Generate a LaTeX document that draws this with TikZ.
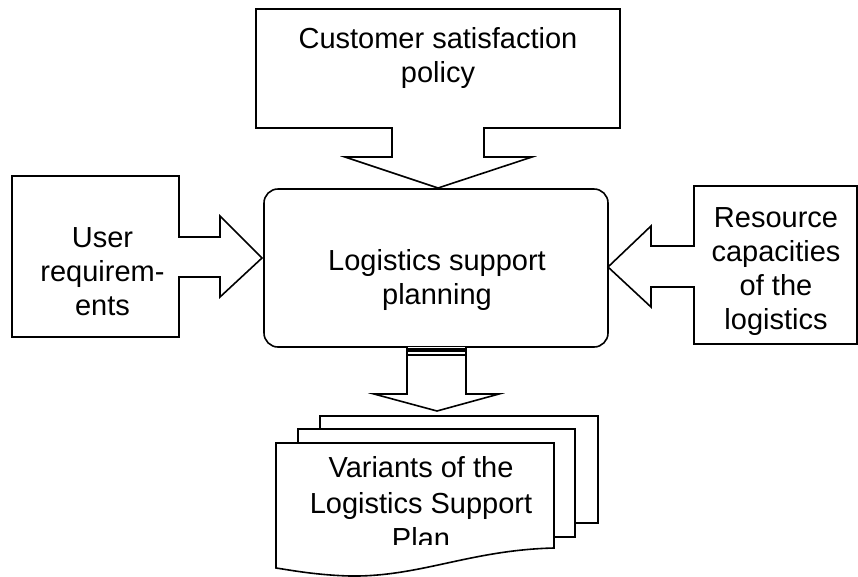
\documentclass[tikz,border=0pt]{standalone}
\usepackage{fontspec}
\setmainfont{Liberation Sans}
\begin{document}
\begin{tikzpicture}[x=1pt,y=-1pt]
\tikzset{
  lbl/.style={font=\fontsize{29}{34}\selectfont, align=center, inner sep=0pt, anchor=north},
  shapeline/.style={draw=black, fill=white, line width=1.6pt, line join=miter},
}
\useasboundingbox (0,0) rectangle (858,576);
\clip (0,0) rectangle (858,576);
\fill[white] (0,0) rectangle (858,576);

% top callout
\draw[shapeline] (256,9) -- (620,9) -- (620,128) -- (484,128) -- (484,157) -- (532,157)
  -- (438,188) -- (345,157) -- (392,157) -- (392,128) -- (256,128) -- cycle;
\node[lbl] (policy) at (438,27.5) {Customer satisfaction\\policy};

% left callout
\draw[shapeline] (12,176) -- (179,176) -- (179,237) -- (220,237) -- (220,216) -- (262,258)
  -- (220,297) -- (220,277) -- (179,277) -- (179,337) -- (12,337) -- cycle;
\node[lbl] (user) at (102.5,227.5) {User\\requirem-\\ents};

% right callout
\draw[shapeline] (857,186) -- (694,186) -- (694,246) -- (651,246) -- (651,226) -- (608,267)
  -- (651,307) -- (651,287) -- (694,287) -- (694,344) -- (857,344) -- cycle;
\node[lbl] (resource) at (776,207) {Resource\\capacities\\of the\\logistics};

% main box
\node[draw, line width=1.6pt, rounded corners=14pt, minimum width=344pt, minimum height=158pt,
  inner sep=0pt] (main) at (436,268) {};
\node[lbl] (mainlbl) at (437,249) {Logistics support\\planning};

% output arrow
\draw[shapeline] (407,347) -- (407,394) -- (374,394) -- (437,411) -- (499,394) -- (466,394) -- (466,347);
\draw[line width=4pt] (407,349.5) -- (466,349.5);
\draw[line width=1.6pt] (407,355) -- (466,355);

% documents
\draw[shapeline] (320,416) rectangle (598,523);
\draw[shapeline] (298,429) rectangle (575,537);
\draw[shapeline] (276,443) -- (554,443) -- (554,548)
  .. controls (470,550) and (420,577) .. (350,576)
  .. controls (315,575) and (290,570) .. (276,568) -- cycle;
\begin{scope}
\clip (270,440) rectangle (560,544);
\node[lbl, font=\fontsize{29}{35.5}\selectfont] (doc) at (421,456.5) {Variants of the\\Logistics Support\\Plan};
\end{scope}
\end{tikzpicture}
\end{document}
